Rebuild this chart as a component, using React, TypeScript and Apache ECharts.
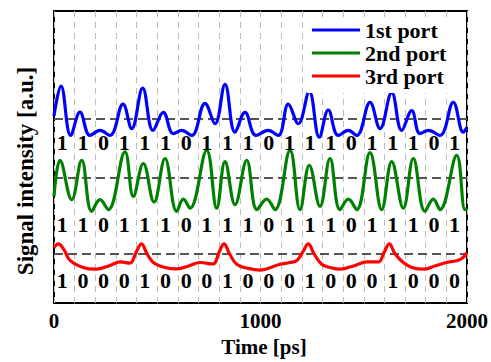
import React, { useEffect, useRef } from "react";
import * as echarts from "echarts";

const seriesNames = ["1st port", "2nd port", "3rd port"];
const seriesColors = ["#0000ff", "#008000", "#ff0000"];
const xTickLabels = [0, 1000, 2000];

const port1T = [0, 33.9, 80.9, 125.9, 174.3, 222.7, 271.2, 334.1, 376.3, 429.5, 479.4, 529.3, 577.7, 618.4, 666.8, 731.2, 779.7, 828.1, 876.5, 924.9, 978.2, 1036.3, 1086.2, 1134.6, 1183.0, 1236.3, 1284.7, 1328.3, 1376.7, 1425.2, 1465.9, 1530.3, 1578.7, 1635.4, 1683.8, 1732.2, 1772.4, 1812.6, 1869.2, 1933.6, 1982.0, 2000];
const port1V = [0.641, 0.743, 0.574, 0.654, 0.574, 0.591, 0.574, 0.681, 0.597, 0.736, 0.591, 0.653, 0.58, 0.591, 0.574, 0.684, 0.614, 0.749, 0.585, 0.653, 0.574, 0.591, 0.574, 0.681, 0.614, 0.724, 0.568, 0.661, 0.574, 0.591, 0.574, 0.687, 0.597, 0.721, 0.591, 0.659, 0.58, 0.591, 0.574, 0.687, 0.585, 0.602];

const port2T = [0, 29.1, 85.7, 134.1, 182.6, 222.8, 263.0, 343.8, 384.0, 432.4, 484.3, 537.5, 594.2, 626.2, 658.6, 739.5, 787.9, 828.1, 876.5, 933.2, 983.1, 1030.0, 1070.2, 1142.9, 1191.3, 1236.3, 1288.1, 1336.5, 1384.9, 1425.2, 1465.9, 1530.3, 1586.9, 1635.4, 1691.5, 1740.0, 1796.6, 1836.8, 1869.2, 1950.1, 1990.3, 2000];
const port2V = [0.365, 0.489, 0.354, 0.489, 0.314, 0.354, 0.32, 0.518, 0.365, 0.478, 0.346, 0.495, 0.314, 0.356, 0.325, 0.523, 0.325, 0.484, 0.337, 0.489, 0.32, 0.356, 0.32, 0.523, 0.32, 0.472, 0.331, 0.495, 0.32, 0.356, 0.32, 0.515, 0.32, 0.484, 0.325, 0.495, 0.314, 0.356, 0.32, 0.506, 0.32, 0.325];

const port3T = [0, 20.8, 48.4, 77.5, 140.4, 203.4, 271.2, 319.6, 368.0, 397.1, 423.7, 450.4, 480.9, 537.5, 595.6, 658.6, 707.0, 770.0, 799.0, 823.2, 849.9, 884.7, 939.5, 997.6, 1094.4, 1142.9, 1176.8, 1205.8, 1231.5, 1259.1, 1296.4, 1336.5, 1384.9, 1457.6, 1514.3, 1570.5, 1598.1, 1623.7, 1651.3, 1691.5, 1733.7, 1788.4, 1845.0, 1901.7, 1957.9, 1980.6, 2000];
const port3V = [0.19, 0.203, 0.183, 0.146, 0.122, 0.116, 0.129, 0.141, 0.137, 0.173, 0.203, 0.169, 0.139, 0.122, 0.117, 0.129, 0.139, 0.134, 0.173, 0.203, 0.169, 0.133, 0.119, 0.113, 0.133, 0.139, 0.146, 0.176, 0.203, 0.169, 0.133, 0.122, 0.116, 0.129, 0.141, 0.141, 0.173, 0.203, 0.169, 0.139, 0.122, 0.116, 0.127, 0.139, 0.147, 0.156, 0.173];

const thresholds = [0.628, 0.427, 0.175];

const bits1 = ["1", "1", "0", "1", "1", "1", "0", "1", "1", "1", "0", "1", "1", "1", "0", "1", "1", "1", "0", "1"];
const bits2 = ["1", "1", "0", "1", "1", "1", "0", "1", "1", "1", "0", "1", "1", "1", "0", "1", "1", "1", "0", "1"];
const bits3 = ["1", "0", "0", "0", "1", "0", "0", "0", "1", "0", "0", "0", "1", "0", "0", "0", "1", "0", "0", "0"];
const bitRowLevels = [0.549, 0.269, 0.076];
const bitPeriodPs = 100;
const bitLabelOffsetPs = 40;

const FONT = '"Liberation Serif", "Times New Roman", serif';

export default function App() {
  const ref = useRef<HTMLDivElement>(null);

  useEffect(() => {
    document.body.style.margin = "0";
    if (!ref.current) return;
    const chart = echarts.init(ref.current, undefined, { renderer: "svg" });

    const ts = [port1T, port2T, port3T];
    const vs = [port1V, port2V, port3V];
    const bitRows = [bits1, bits2, bits3];

    const lineSeries = seriesNames.map((name, i) => ({
      name,
      type: "line",
      data: ts[i].map((t, j) => [t, vs[i][j]]),
      smooth: 0.4,
      showSymbol: false,
      symbol: "none",
      lineStyle: { color: seriesColors[i], width: 3.2 },
      itemStyle: { color: seriesColors[i] },
      z: 3,
      markLine: {
        silent: true,
        symbol: "none",
        label: { show: false },
        lineStyle: { color: "#555", type: [9, 5], width: 2 },
        data: [{ yAxis: thresholds[i] }],
        z: 2,
      },
    }));

    const labelSeries = bitRows.map((bits, i) => ({
      name: "bits" + i,
      type: "scatter",
      symbol: "circle",
      symbolSize: 1,
      itemStyle: { color: "rgba(0,0,0,0)", opacity: 1 },
      data: bits.map((b, k) => [k * bitPeriodPs + bitLabelOffsetPs, bitRowLevels[i], b]),
      label: {
        show: true,
        position: "inside",
        formatter: (p: any) => p.value[2],
        color: "#000",
        opacity: 1,
        textBorderWidth: 0,
        textBorderColor: "transparent",
        fontFamily: FONT,
        fontWeight: "bold",
        fontSize: 22,
      },
      z: 4,
    }));

    chart.setOption({
      animation: false,
      grid: {
        left: 54,
        right: 24,
        top: 11,
        bottom: 56,
        show: true,
        borderColor: "#000",
        borderWidth: 2,
        backgroundColor: "#fff",
      },
      legend: {
        data: seriesNames.map((n, i) => ({ name: n, itemStyle: { color: seriesColors[i] } })),
        orient: "vertical",
        left: 307,
        top: 17,
        padding: [2, 5, 6, 5],
        backgroundColor: "#fff",
        icon: "rect",
        itemWidth: 48,
        itemHeight: 3,
        itemGap: 1,
        textStyle: {
          fontFamily: FONT,
          fontWeight: "bold",
          fontSize: 22,
          color: "#000",
          lineHeight: 22,
        },
      },
      xAxis: {
        type: "value",
        min: 0,
        max: 2000,
        interval: 100,
        name: "Time [ps]",
        nameLocation: "middle",
        nameGap: 30,
        nameTextStyle: {
          fontFamily: FONT,
          fontWeight: "bold",
          fontSize: 21,
          color: "#000",
          padding: [0, 0, 0, 7],
        },
        axisLine: { show: false },
        axisTick: { show: false },
        axisLabel: {
          margin: 7,
          fontFamily: FONT,
          fontWeight: "bold",
          fontSize: 21,
          color: "#000",
          formatter: (v: number) => (xTickLabels.indexOf(v) >= 0 ? String(v) : ""),
        },
        splitLine: {
          show: true,
          lineStyle: { color: "#bdbdbd", type: [6, 5], width: 1 },
        },
      },
      yAxis: {
        type: "value",
        min: 0,
        max: 1,
        axisLine: { show: false },
        axisTick: { show: false },
        axisLabel: { show: false },
        splitLine: { show: false },
      },
      graphic: [
        {
          type: "text",
          x: 25,
          y: 171,
          rotation: Math.PI / 2,
          style: {
            text: "Signal intensity [a.u.]",
            font: 'bold 23px "Liberation Serif"',
            textAlign: "center",
            textVerticalAlign: "middle",
            fill: "#000",
          },
        },
      ],
      series: [...lineSeries, ...labelSeries],
    });

    return () => chart.dispose();
  }, []);

  return <div ref={ref} style={{ width: 491, height: 362 }} />;
}
